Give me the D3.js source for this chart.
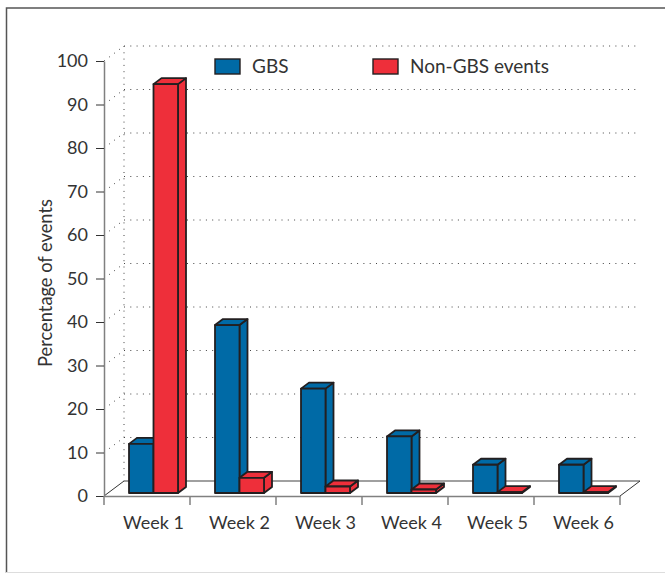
<!DOCTYPE html>
<html>
<head>
<meta charset="utf-8">
<script src="https://cdn.jsdelivr.net/npm/d3@7"></script>
<style>
  html, body { margin: 0; padding: 0; background: #fff; }
  svg { display: block; }
  text { font-family: Lato, sans-serif; fill: #333; }
</style>
</head>
<body>
<div id="chart"></div>
<script>
const weeks = ["Week 1", "Week 2", "Week 3", "Week 4", "Week 5", "Week 6"];
const series = ["GBS", "Non-GBS events"];
const gbs = [11.3, 38.6, 24, 13, 6.5, 6.5];
const nonGbs = [94, 3.5, 1.5, 0.8, 0.2, 0.2];
const yTicks = [0, 10, 20, 30, 40, 50, 60, 70, 80, 90, 100];
const colors = ["#006aa6", "#ee2f3a"];

const width = 665, height = 573;
const depthX = 20, depthY = 15;    // wall offset
const barDepthX = 8, barDepthY = 6;
const barLift = 3;                 // bars sit a little inside the floor

const svg = d3.select("#chart").append("svg")
    .attr("width", width)
    .attr("height", height);

// outer frame, the crop cuts it on the right
svg.append("path")
    .attr("d", "M6.5,573V8H665")
    .attr("fill", "none")
    .attr("stroke", "#555")
    .attr("stroke-width", 1.5);
svg.append("line")
    .attr("x1", 6).attr("x2", 665)
    .attr("y1", 572.5).attr("y2", 572.5)
    .attr("stroke", "#ddd");

const x = d3.scaleBand().domain(weeks).range([104, 620]);
const xBar = d3.scaleBand().domain(series).range([25, 74]);
const y = d3.scaleLinear().domain([0, 100]).range([496, 61]);
const [xLeft, xRight] = x.range();

// dotted walls
const grid = svg.append("g").attr("stroke", "#444").attr("stroke-dasharray", "1 5.3").attr("fill", "none");
grid.selectAll(".back").data(yTicks.slice(1)).join("line")
    .attr("class", "back")
    .attr("x1", xLeft + depthX).attr("x2", xRight + depthX - 2)
    .attr("y1", d => y(d) - depthY).attr("y2", d => y(d) - depthY);
grid.selectAll(".side").data(yTicks.slice(1)).join("line")
    .attr("class", "side")
    .attr("x1", xLeft).attr("x2", xLeft + depthX)
    .attr("y1", d => y(d)).attr("y2", d => y(d) - depthY);
grid.append("line")
    .attr("x1", xLeft + depthX).attr("x2", xLeft + depthX)
    .attr("y1", y(100) - depthY).attr("y2", y(0) - depthY);

// floor
svg.append("line")
    .attr("x1", xLeft + depthX).attr("x2", xRight + depthX)
    .attr("y1", y(0) - depthY).attr("y2", y(0) - depthY)
    .attr("stroke", "#808080").attr("stroke-width", 1.5);
svg.selectAll(".floor-edge").data([xLeft, xRight]).join("line")
    .attr("class", "floor-edge")
    .attr("x1", d => d).attr("x2", d => d + depthX)
    .attr("y1", y(0)).attr("y2", y(0) - depthY)
    .attr("stroke", "#333");

// bars, front face plus top and side
function drawBar(g, week, value, s) {
  const i = series.indexOf(s);
  const x0 = x(week) + xBar(s), x1 = x0 + xBar.bandwidth();
  const y0 = y(0) - barLift, y1 = y(value) - barLift;
  const line = d3.line();
  const bar = g.append("g")
      .attr("stroke", "#231f20")
      .attr("stroke-width", 1.8)
      .attr("stroke-linejoin", "round");
  bar.append("path")
      .attr("fill", colors[i])
      .attr("d", line([[x1, y0], [x1 + barDepthX, y0 - barDepthY], [x1 + barDepthX, y1 - barDepthY], [x1, y1]]) + "Z");
  bar.append("path")
      .attr("fill", colors[i])
      .attr("d", line([[x0, y1], [x0 + barDepthX, y1 - barDepthY], [x1 + barDepthX, y1 - barDepthY], [x1, y1]]) + "Z");
  bar.append("rect")
      .attr("fill", colors[i])
      .attr("x", x0).attr("y", y1)
      .attr("width", x1 - x0).attr("height", y0 - y1);
}

const bars = svg.append("g");
weeks.forEach((w, i) => {
  drawBar(bars, w, gbs[i], series[0]);
  drawBar(bars, w, nonGbs[i], series[1]);
});

// axes
const yAxis = d3.axisLeft(y).tickValues(yTicks).tickSize(8).tickPadding(8).tickSizeOuter(0);
const gy = svg.append("g")
    .attr("transform", `translate(${xLeft},0)`)
    .call(yAxis);
gy.select(".domain").attr("stroke", "#808080").attr("stroke-width", 1.5);
gy.selectAll(".tick line").attr("stroke", "#333").attr("stroke-width", 1);
gy.selectAll(".tick text").style("font-size", "18px");

const xAxis = d3.axisBottom(x).tickSize(0).tickPadding(20);
const gx = svg.append("g")
    .attr("transform", `translate(0,${y(0)})`)
    .call(xAxis);
gx.select(".domain").attr("stroke", "#808080").attr("stroke-width", 1.5);
gx.selectAll(".tick text").attr("dx", 6.5).style("font-size", "18px");
svg.append("g").selectAll("line")
    .data(weeks.map(w => x(w)).concat(xRight))
    .join("line")
    .attr("x1", d => d).attr("x2", d => d)
    .attr("y1", y(0)).attr("y2", y(0) + 9)
    .attr("stroke", "#808080").attr("stroke-width", 1.5);

// y title
svg.append("text")
    .attr("transform", "translate(52,283) rotate(-90)")
    .attr("text-anchor", "middle")
    .style("font-size", "18.3px")
    .text("Percentage of events");

// legend
const legendX = [215, 373];
const legend = svg.append("g").selectAll("g").data(series).join("g")
    .attr("transform", (d, i) => `translate(${legendX[i]},59)`);
legend.append("rect")
    .attr("width", 25).attr("height", 15)
    .attr("fill", (d, i) => colors[i])
    .attr("stroke", "#231f20").attr("stroke-width", 1.4);
legend.append("text")
    .attr("x", 37).attr("y", 14)
    .style("font-size", "19px")
    .text(d => d);
</script>
</body>
</html>
